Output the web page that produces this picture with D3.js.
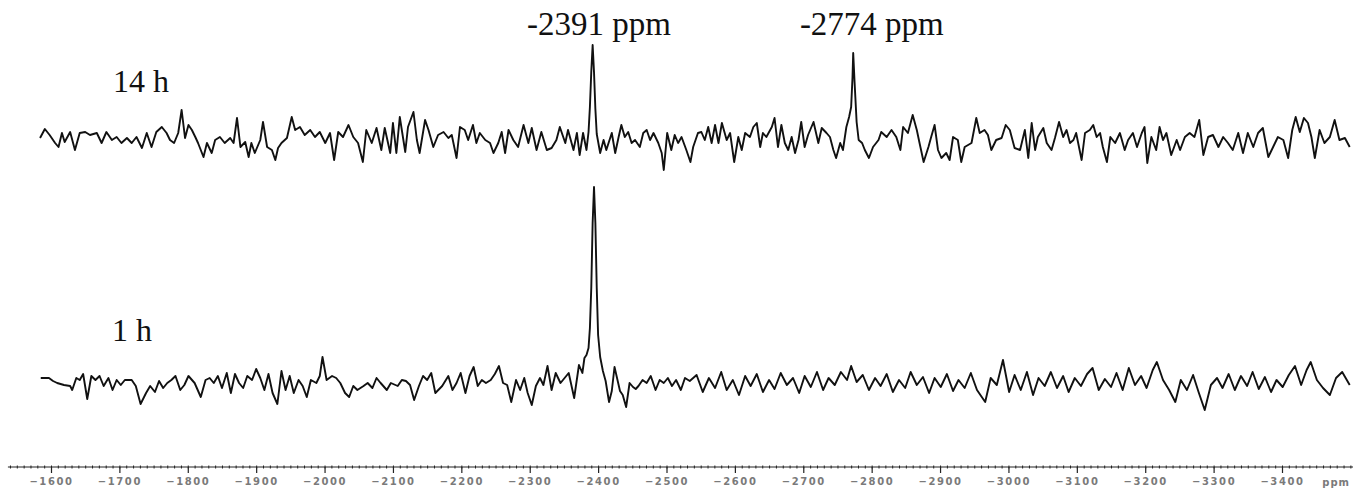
<!DOCTYPE html>
<html><head><meta charset="utf-8">
<script src="https://cdn.jsdelivr.net/npm/d3@7"></script>
<style>body{margin:0;background:#fff;overflow:hidden}</style>
</head><body>
<svg id="c" width="1353" height="489"></svg>
<script>
// ---- data (ppm, intensity) ----
const ppm14 = [-1584,-1591,-1598,-1606,-1611,-1616,-1620,-1628,-1635,-1642,-1650,-1657,-1667,-1674,-1681,-1689,-1696,-1703,-1711,-1718,-1725,-1733,-1740,-1747,-1754,-1762,-1769,-1774,-1780,-1786,-1791,-1796,-1801,-1806,-1811,-1815,-1823,-1828,-1835,-1840,-1847,-1854,-1862,-1867,-1872,-1877,-1884,-1889,-1893,-1898,-1906,-1910,-1916,-1923,-1928,-1932,-1937,-1945,-1952,-1957,-1964,-1971,-1979,-1986,-1993,-2001,-2008,-2014,-2020,-2027,-2035,-2042,-2049,-2056,-2061,-2069,-2076,-2083,-2088,-2096,-2100,-2105,-2110,-2118,-2122,-2130,-2135,-2139,-2147,-2152,-2159,-2166,-2174,-2181,-2186,-2193,-2198,
-2205,-2210,-2217,-2222,-2227,-2235,-2242,-2247,-2254,-2259,-2264,-2269,-2276,-2283,-2291,-2298,-2303,-2310,-2317,-2325,-2332,-2339,-2344,-2352,-2356,-2364,-2369,-2373,-2378,-2383,-2386,-2388,-2390,-2392,-2394,-2396,-2398,-2403,-2408,-2412,-2420,-2425,-2430,-2434,-2439,-2444,-2449,-2454,-2461,-2466,-2471,-2476,-2481,-2488,-2493,-2496,-2501,-2507,-2512,-2517,-2522,-2529,-2535,-2539,-2546,-2551,-2556,-2561,-2566,-2571,-2576,-2581,-2588,-2593,-2599,-2605,-2610,-2615,-2622,-2627,-2632,-2637,-2641,-2646,-2654,-2658,-2663,-2668,-2673,-2678,-2683,-2688,-2693,-2697,-2702,-2707,-2715,-2722,-2727,-2734,-2739,-2744,-2748,-2754,-2758,-2763,-2767,-2770,-2772,-2773,-2775,-2778,-2781,-2786,-2790,-2796,-2802,-2810,-2814,-2822,-2829,-2836,-2842,
-2846,-2853,-2860,-2866,-2870,-2876,-2883,-2887,-2892,-2897,-2902,-2909,-2914,-2919,-2926,-2931,-2936,-2941,-2946,-2953,-2958,-2965,-2970,-2975,-2982,-2990,-2996,-3002,-3009,-3017,-3024,-3029,-3034,-3039,-3043,-3051,-3056,-3063,-3068,-3074,-3080,-3085,-3090,-3095,-3099,-3107,-3112,-3119,-3124,-3129,-3134,-3138,-3144,-3149,-3156,-3163,-3170,-3175,-3182,-3188,-3195,-3199,-3203,-3209,-3216,-3221,-3226,-3231,-3238,-3246,-3251,-3258,-3265,-3272,-3279,-3285,-3292,-3299,-3307,-3314,-3321,-3328,-3336,-3343,-3350,-3358,-3365,-3372,-3380,-3387,-3394,-3402,-3409,-3415,-3420,-3426,-3432,-3438,-3443,-3448,-3455,-3462,-3470,-3477,-3484,-3492,-3499];
const int14 = [-1,8,2,-6,-10,4,-5,5,-13,4,5,2,4,-6,5,-3,0,-6,-1,-6,0,-11,4,-10,5,10,4,-3,-6,4,27,-1,12,7,0,-6,-20,-6,-16,-3,0,-6,-1,-6,19,-10,-5,-20,-6,-16,-3,15,-10,-13,-23,-11,-6,-1,20,7,10,2,7,0,5,-6,4,-23,5,0,12,0,-6,-25,7,-6,9,-13,9,-16,14,-16,20,-15,10,25,-3,-16,17,7,-10,2,5,-1,2,-21,10,
7,-3,12,-6,4,-3,-6,-16,-6,5,-16,7,-3,-10,12,-6,9,-13,5,-13,-11,-3,10,-6,7,-13,4,-18,4,-13,5,30,65,92,65,28,3,-16,-3,-13,4,-16,0,12,0,5,-6,-3,-10,4,7,-3,4,-6,-16,-33,4,-13,2,-6,0,-13,-25,-10,4,5,-3,10,-6,12,-6,14,-3,4,-25,0,-13,4,0,10,14,-10,4,0,10,19,-10,12,-6,-13,0,-16,-3,15,-10,2,15,-6,9,4,0,-13,-21,-6,-13,10,20,30,60,84,55,15,-3,-6,-13,-21,-10,-3,5,0,7,0,-13,
10,4,22,7,-6,-25,-10,0,12,-13,-21,-16,-23,0,-3,-25,-10,-8,-6,19,4,7,2,-13,-3,-1,12,7,-11,-13,7,-21,14,-13,0,9,-6,-13,-1,15,0,7,-6,-3,4,-23,4,7,12,0,4,-10,-25,0,-6,4,-13,-3,4,-10,4,10,-26,0,-13,10,-3,4,-18,-3,-13,0,4,0,17,-18,0,2,-10,0,-6,-13,4,-16,4,-10,4,9,-20,-10,0,-3,-21,7,20,5,19,14,0,-21,7,-6,0,17,-3,-1,-10];

const ppm1 = [-1585,-1597,-1603,-1609,-1619,-1628,-1631,-1637,-1642,-1647,-1653,-1659,-1665,-1671,-1677,-1684,-1690,-1696,-1702,-1708,-1718,-1724,-1731,-1739,-1745,-1752,-1758,-1764,-1770,-1776,-1782,-1789,-1795,-1801,-1810,-1819,-1826,-1832,-1838,-1844,-1850,-1857,-1863,-1869,-1875,-1881,-1887,-1894,-1900,-1906,-1912,-1918,-1924,-1931,-1937,-1943,-1949,-1955,-1962,-1968,-1974,-1980,-1988,-1993,-1997,-2003,-2011,-2017,-2023,-2030,-2036,-2042,-2048,-2057,-2063,-2070,-2076,-2082,-2091,-2097,-2107,-2113,-2119,-2125,-2131,-2138,-2144,-2150,-2156,-2162,-2172,-2181,-2187,-2193,-2199,-2206,-2212,-2218,-2224,-2230,-2236,-2243,-2249,-2255,-2261,-2267,-2273,-2280,-2286,-2292,-2297,-2303,-2309,-2315,-2320,-2326,-2332,-2338,-2345,-2351,-2357,-2365,-2372,-2377,-2380,-2383,-2386,-2388,-2390,-2392,-2394,-2396,-2398,-2400,-2403,-2407,-2411,-2416,-2420,-2424,-2428,-2432,-2436,-2441,-2446,-2451,-2455,-2459,-2465,-2471,-2477,-2484,-2490,-2496,-2502,-2508,-2514,-2521,-2527,-2534,
-2544,-2553,-2562,-2571,-2580,-2588,-2597,-2606,-2615,-2623,-2632,-2641,-2650,-2658,-2667,-2676,-2685,-2694,-2702,-2711,-2720,-2729,-2737,-2746,-2755,-2764,-2770,-2778,-2787,-2796,-2805,-2813,-2822,-2831,-2840,-2849,-2857,-2866,-2875,-2884,-2892,-2901,-2910,-2919,-2927,-2936,-2945,-2954,-2966,-2974,-2983,-2992,-3001,-3009,-3018,-3027,-3036,-3044,-3053,-3062,-3071,-3080,-3088,-3097,-3106,-3115,-3123,-3132,-3141,-3150,-3158,-3167,-3176,-3185,-3194,-3202,-3211,-3217,-3226,-3235,-3244,-3252,-3261,-3270,-3278,-3287,-3296,-3305,-3313,-3322,-3331,-3340,-3349,-3357,-3366,-3375,-3384,-3392,-3401,-3410,-3419,-3428,-3436,-3442,-3451,-3460,-3470,-3479,-3488,-3499];
const int1 = [5,5,2,0,-2,-3,-7,5,3,9,-16,7,3,7,-3,5,-7,3,-2,3,3,-3,-21,-10,-3,-9,2,-5,0,3,7,-7,-2,7,0,-14,3,5,0,7,-5,10,-10,9,0,-5,7,3,14,5,-7,9,-10,-21,12,-7,7,-10,3,-3,-14,3,0,7,26,3,7,5,0,-10,-14,-3,-7,-3,0,-5,5,0,-7,0,-3,3,2,-2,-17,-3,7,3,10,-10,-3,7,-7,0,10,-10,7,16,-3,3,0,3,9,17,0,-2,-19,3,-7,5,-10,-22,-3,5,-2,17,-7,10,0,5,10,-15,18,10,25,28,35,55,95,160,196,160,95,48,26,12,2,-19,-8,16,4,-8,-12,-24,0,-4,-6,-3,3,0,7,-7,3,0,5,-3,3,-7,5,2,
8,-9,5,-5,11,-7,3,-12,7,-3,9,-9,3,-6,10,-2,5,-10,7,-4,11,-7,5,-2,11,3,17,1,8,-7,5,-3,9,-9,3,-5,11,-2,6,-10,5,-4,9,-8,3,-5,10,-7,-19,5,-2,23,-9,8,-7,11,-12,5,-3,11,-5,7,-9,5,-3,9,15,-7,4,-4,10,-7,15,-2,7,-5,13,21,3,-7,-19,3,-7,8,-9,-27,-2,5,-5,9,-7,7,-3,11,-6,6,-9,3,-4,8,17,-2,13,21,3,-5,-12,5,11,-2];

const traceLabels = ["14 h", "1 h"];
const peakPpm = [-2391, -2774];
const peakLabels = ["-2391 ppm", "-2774 ppm"];
const majorTicks = [-1600,-1700,-1800,-1900,-2000,-2100,-2200,-2300,-2400,-2500,-2600,-2700,-2800,-2900,-3000,-3100,-3200,-3300,-3400];
const tickLabels = ["\u22121600","\u22121700","\u22121800","\u22121900","\u22122000","\u22122100","\u22122200","\u22122300","\u22122400","\u22122500","\u22122600","\u22122700","\u22122800","\u22122900","\u22123000","\u22123100","\u22123200","\u22123300","\u22123400"];
const axisUnit = "ppm";

// ---- layout ----
const svg = d3.select("#c");
const x = d3.scaleLinear().domain([-1600, -3400]).range([51, 1282]);
const yI = d3.scaleLinear().domain([0, 100]).range([0, -100]);
const baseY = [137, 383];

const line = d3.line().x((d) => x(d[0])).y((d) => yI(d[1]));
const series = [d3.zip(ppm14, int14), d3.zip(ppm1, int1)];

series.forEach((s, i) => {
  svg.append("path")
    .attr("transform", `translate(0,${baseY[i]})`)
    .attr("d", line(s))
    .attr("fill", "none")
    .attr("stroke", "#111")
    .attr("stroke-width", 1.9)
    .attr("stroke-linejoin", "round");
});

const serif = "'Liberation Serif','Times New Roman',serif";
svg.selectAll("text.tl").data(traceLabels).join("text")
  .attr("class", "tl")
  .attr("x", (d, i) => [113, 112][i])
  .attr("y", (d, i) => [92, 341][i])
  .attr("font-family", serif).attr("font-size", 32).attr("fill", "#111")
  .text((d) => d);

const peakDx = [-65, -54];
svg.selectAll("text.pl").data(peakLabels).join("text")
  .attr("class", "pl")
  .attr("x", (d, i) => x(peakPpm[i]) + peakDx[i])
  .attr("y", 35)
  .attr("font-family", serif).attr("font-size", 33).attr("fill", "#111")
  .text((d) => d);

// ---- axis ----
const axisY = 467;
const axG = svg.append("g").attr("transform", `translate(0,${axisY})`);
axG.append("line")
  .attr("x1", x(-1537)).attr("x2", x(-3505))
  .attr("stroke", "#222").attr("stroke-width", 1.2);

const minor = d3.range(-1540, -3510, -10);
const minorAxis = d3.axisBottom(x).tickValues(minor).tickSize(3).tickFormat("");
const mg = svg.append("g").attr("transform", `translate(0,${axisY - 1.5})`).call(minorAxis);
mg.select(".domain").remove();
mg.selectAll("line").attr("stroke", "#222").attr("stroke-width", 1);

const majorAxis = d3.axisBottom(x).tickValues(majorTicks).tickSize(6).tickPadding(5)
  .tickFormat((d, i) => tickLabels[i]);
const MG = svg.append("g").attr("transform", `translate(0,${axisY})`).call(majorAxis);
MG.select(".domain").remove();
MG.selectAll("line").attr("stroke", "#222").attr("stroke-width", 1.2);
MG.selectAll("text")
  .attr("font-family", "'DejaVu Sans',sans-serif")
  .attr("font-size", 10).attr("fill", "#7a7a7a")
  .attr("letter-spacing", "1.6px").attr("font-weight", "bold");

svg.append("text")
  .attr("x", 1350).attr("y", axisY + 19)
  .attr("text-anchor", "end")
  .attr("font-family", "'DejaVu Sans',sans-serif")
  .attr("font-size", 10).attr("fill", "#7a7a7a").attr("font-weight", "bold")
  .attr("letter-spacing", "1px")
  .text(axisUnit);
</script>
</body></html>
